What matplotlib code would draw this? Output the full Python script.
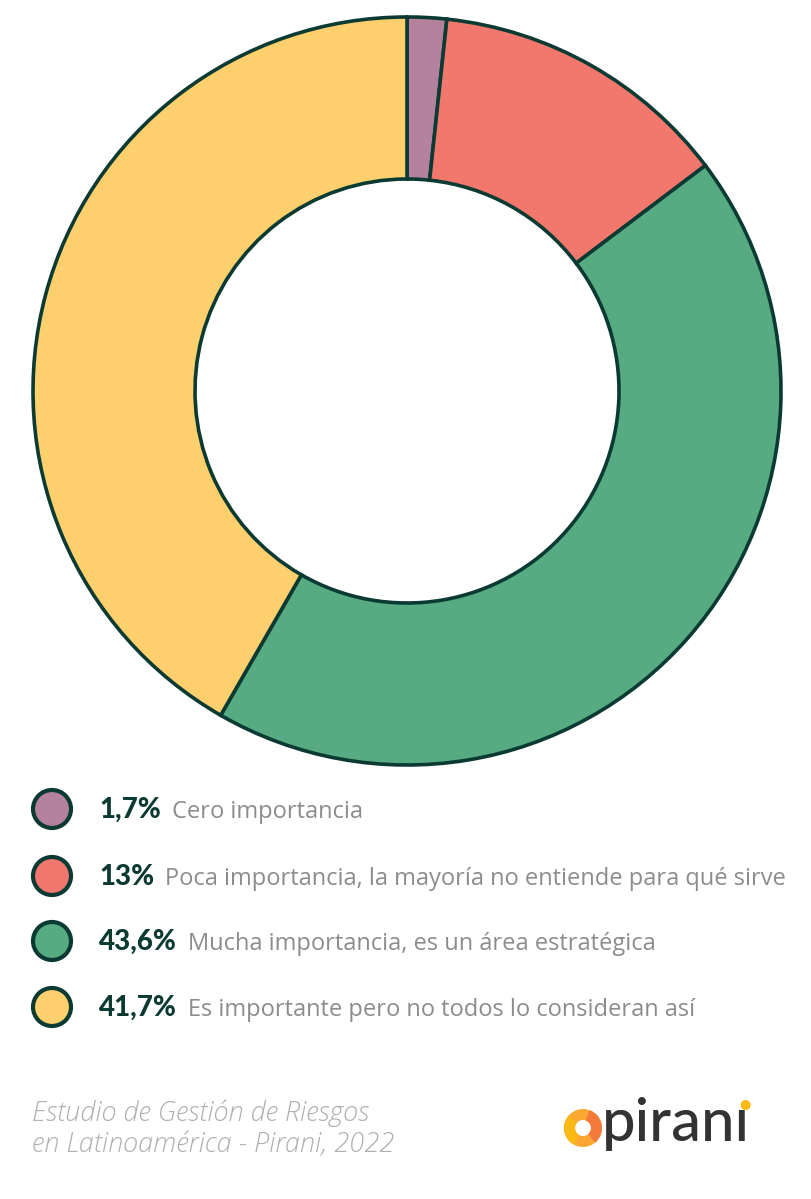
import matplotlib
matplotlib.use("Agg")
import matplotlib.pyplot as plt
from matplotlib.patches import Circle, Wedge

# ── data ──────────────────────────────────────────────────────────────────────
values = [1.7, 13.0, 43.6, 41.7]
pct_labels = ["1,7%", "13%", "43,6%", "41,7%"]
labels = [
    "Cero importancia",
    "Poca importancia, la mayoría no entiende para qué sirve",
    "Mucha importancia, es un área estratégica",
    "Es importante pero no todos lo consideran así",
]
colors = ["#B5829E", "#F2776C", "#56AB82", "#FDCF6D"]
source = "Estudio de Gestión de Riesgos\nen Latinoamérica - Pirani, 2022"

EDGE = "#0B3A33"
W, H = 812, 1199

fig = plt.figure(figsize=(W / 100, H / 100), dpi=100)
fig.patch.set_facecolor("white")


def px_x(disp_x):
    return disp_x * W / (fig.get_figwidth() * fig.dpi)


# ── donut ─────────────────────────────────────────────────────────────────────
cx, cy, r_out, ring = 407, 391, 374, 162
pad = 382
ax = fig.add_axes([(cx - pad) / W, (H - cy - pad) / H, 2 * pad / W, 2 * pad / H])
ax.pie(values, colors=colors, startangle=90, counterclock=False, radius=r_out,
       wedgeprops=dict(width=ring, edgecolor=EDGE, linewidth=2.6))
ax.set_xlim(-pad, pad)
ax.set_ylim(-pad, pad)
ax.set_aspect("equal")
ax.axis("off")

# ── legend + footer on a pixel-coordinate overlay ─────────────────────────────
ov = fig.add_axes([0, 0, 1, 1])
ov.set_xlim(0, W)
ov.set_ylim(H, 0)
ov.axis("off")

rows_y = [809, 876, 941, 1007]
for y, col, pct, lab in zip(rows_y, colors, pct_labels, labels):
    ov.add_patch(Circle((52, y), 19, facecolor=col, edgecolor=EDGE, linewidth=3))
    t = ov.text(99, y + 9, pct, fontsize=20, fontweight="black", family=["Lato", "DejaVu Sans"],
                color=EDGE, va="baseline", ha="left")
    fig.canvas.draw()
    x_end = px_x(t.get_window_extent().x1)
    ov.text(x_end + 11, y + 9, lab, fontsize=17, family=["Open Sans", "DejaVu Sans"],
            color="#8C8C8C", va="baseline", ha="left")

ov.text(32, 1129, source, fontsize=19.5, style="italic", fontweight="light",
        family=["Open Sans", "DejaVu Sans"], color="#B0B0B0", va="center", ha="left",
        linespacing=1.2)

# pirani logo
ov.add_patch(Wedge((583, 1128), 19, 0, 360, width=11, facecolor="#FBA833", edgecolor="none"))
ov.add_patch(Wedge((583, 1128), 19, -70, 50, width=11, facecolor="#F47A3C", edgecolor="none"))
ov.add_patch(Wedge((583, 1128), 19, 120, 220, width=11, facecolor="#FDB913", edgecolor="none"))
logo = ov.text(602, 1141, "piranı", fontsize=43, family=["Lato", "DejaVu Sans"],
               fontweight="medium", color="#333333", va="baseline", ha="left")
fig.canvas.draw()
bb = logo.get_window_extent()
ov.add_patch(Circle((px_x(bb.x1) - 4.5, 1105), 5, facecolor="#FDB913", edgecolor="none"))

fig.savefig("out.png", dpi=100, facecolor="white")
